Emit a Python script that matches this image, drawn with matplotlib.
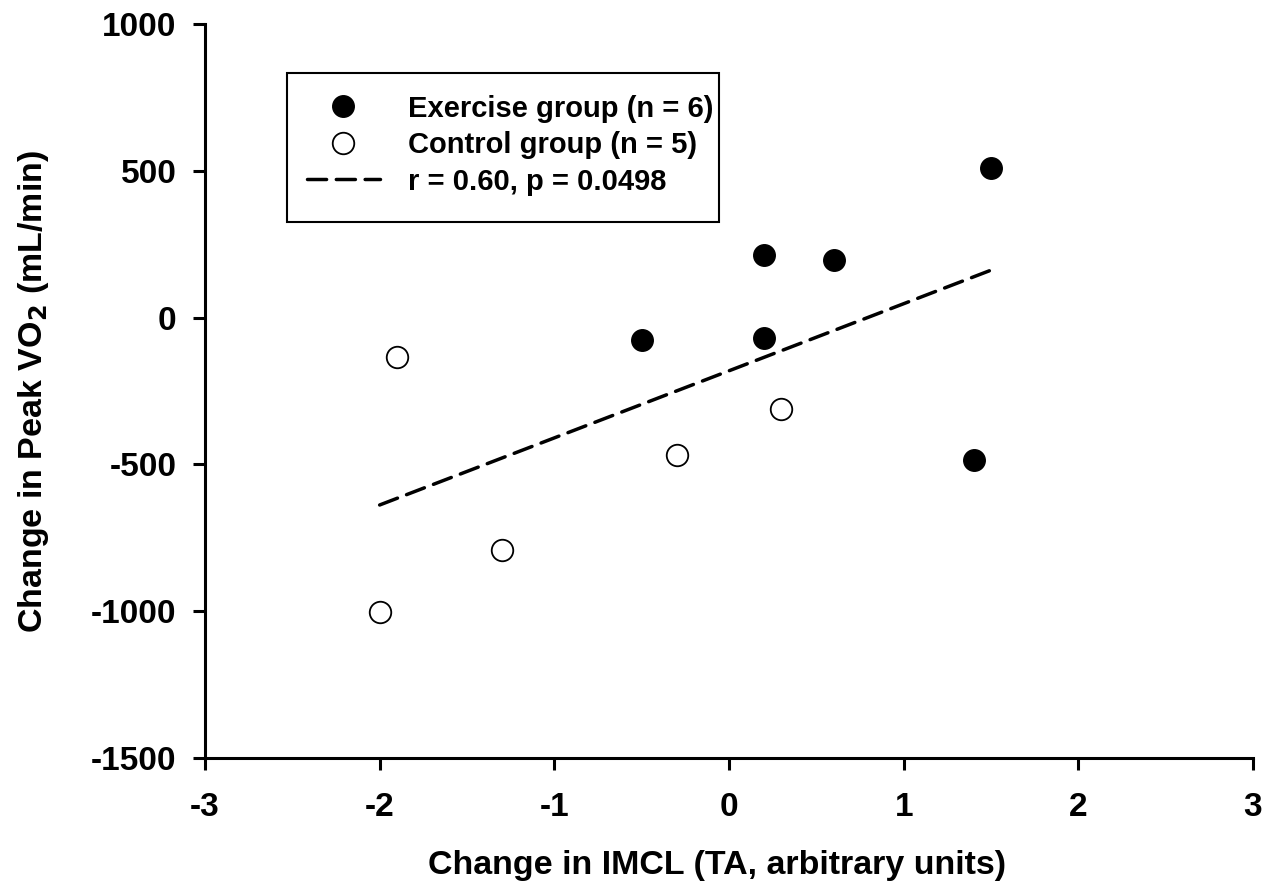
import matplotlib
matplotlib.use("Agg")
import matplotlib.pyplot as plt
from matplotlib.patches import Rectangle

plt.rcParams['font.family'] = ['Liberation Sans', 'DejaVu Sans']
plt.rcParams['font.weight'] = 'bold'
plt.rcParams['axes.unicode_minus'] = False
plt.rcParams['mathtext.default'] = 'bf'

ex_x = [1.5, 0.2, 0.6, -0.5, 0.2, 1.4]
ex_y = [510, 212, 196, -76, -69, -485]
ct_x = [-1.9, -0.3, 0.3, -1.3, -2.0]
ct_y = [-134, -468, -312, -792, -1003]
fit_x = [-2.0, 1.5]
fit_y = [-638, 162]

xticks = [-3, -2, -1, 0, 1, 2, 3]
yticks = [-1500, -1000, -500, 0, 500, 1000]

fig = plt.figure(figsize=(12.74, 8.96), dpi=100)
ax = fig.add_axes([0.1609, 0.154, 0.8226, 0.819])

ax.plot(ex_x, ex_y, 'o', color='black', markersize=15.5, label='Exercise group (n = 6)', zorder=3)
ax.plot(ct_x, ct_y, 'o', markerfacecolor='white', markeredgecolor='black', markeredgewidth=1.3,
        markersize=15.5, label='Control group (n = 5)', zorder=3)
ax.plot(fit_x, fit_y, '--', color='black', linewidth=2.5, dashes=(5.5, 2.8), dash_capstyle='round',
        label='r = 0.60, p = 0.0498', zorder=2)

ax.set_xlim(-3, 3)
ax.set_ylim(-1500, 1000)
ax.set_xticks(xticks)
ax.set_yticks(yticks)
ax.spines['top'].set_visible(False)
ax.spines['right'].set_visible(False)
for s in ['left', 'bottom']:
    ax.spines[s].set_linewidth(2.2)
ax.tick_params(direction='out', length=8.6, width=2.2, labelsize=24)
ax.tick_params(axis='x', pad=16)
ax.tick_params(axis='y', pad=12)
for lab in ax.get_xticklabels() + ax.get_yticklabels():
    lab.set_fontweight('bold')

ax.set_xlabel('Change in IMCL (TA, arbitrary units)', fontsize=24.5, fontweight='bold')
ax.set_ylabel('Change in Peak VO$_\\mathbf{2}$ (mL/min)', fontsize=24.5, fontweight='bold')
ax.xaxis.set_label_coords(0.489, -0.125)
ax.yaxis.set_label_coords(-0.147, 0.50)

# legend frame
ax.add_patch(Rectangle((0.078, 0.730), 0.412, 0.203, transform=ax.transAxes,
                       facecolor='white', edgecolor='black', linewidth=1.5, zorder=4))
leg = ax.legend(loc='upper left', bbox_to_anchor=(0.0973, 0.904), fontsize=21, frameon=False,
                borderpad=0, handlelength=2.5, labelspacing=0.29, handletextpad=0.95,
                borderaxespad=0)
leg.set_zorder(5)
for t in leg.get_texts():
    t.set_fontweight('bold')

fig.savefig('out.png', dpi=100)
